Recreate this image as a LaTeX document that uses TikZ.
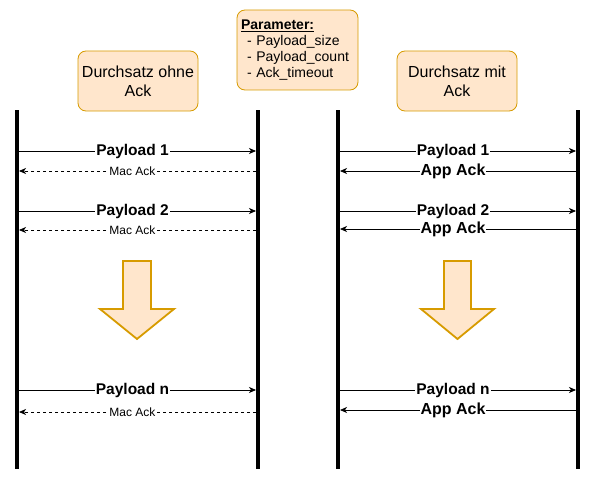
\documentclass[tikz,border=0pt]{standalone}
\usepackage{fontspec}
\setmainfont{Liberation Sans}
\usetikzlibrary{arrows.meta}
\definecolor{boxfill}{HTML}{FFE6CC}
\definecolor{boxdraw}{HTML}{D79B00}
\begin{document}
\begin{tikzpicture}[x=1pt,y=-1pt,
    msg/.style={-{Stealth[length=7pt,width=6pt,inset=2pt]},line width=0.8pt},
    macack/.style={msg,dash pattern=on 3pt off 3pt},
    lbl/.style={fill=white,inner sep=1pt,xshift=-5pt,font=\bfseries\fontsize{15.5}{18}\selectfont},
    maclbl/.style={fill=white,inner sep=1pt,xshift=-5pt,font=\fontsize{12}{14}\selectfont},
    applbl/.style={fill=white,inner sep=1pt,xshift=-5pt,font=\bfseries\fontsize{16}{19}\selectfont},
    lifeline/.style={line width=3.8pt},
    bigarrow/.style={fill=boxfill,draw=boxdraw,line width=1.8pt,line join=miter}]
            \useasboundingbox (0,0) rectangle (596,484);
            \begin{scope}[every node/.style={rectangle,rounded corners=8pt,fill=boxfill,draw=boxdraw,line width=0.8pt}]
                \node[minimum width=120pt,minimum height=60pt,align=center,font=\fontsize{16}{19}\selectfont] (ohne) at (138,81) {Durchsatz ohne\\Ack};
                \node[minimum width=120pt,minimum height=60pt,align=center,font=\fontsize{16}{19}\selectfont] (mit) at (457,81) {Durchsatz mit\\Ack};
                \node[minimum width=121pt,minimum height=80pt,text width=113pt,inner xsep=4pt,align=left,font=\fontsize{14}{16}\selectfont] (param) at (297.5,50) {\textbf{\underline{Parameter:}}\\\hspace*{6pt}- Payload\_size\\\hspace*{6pt}- Payload\_count\\\hspace*{6pt}- Ack\_timeout};
            \end{scope}
            % lifelines
            \coordinate (s1top) at (17,110);
            \coordinate (s1bot) at (17,469);
            \coordinate (e1top) at (258,110);
            \coordinate (e1bot) at (258,469);
            \coordinate (s2top) at (338,110);
            \coordinate (s2bot) at (338,469);
            \coordinate (e2top) at (578,110);
            \coordinate (e2bot) at (578,469);
            \draw[lifeline] (s1top) -- (s1bot);
            \draw[lifeline] (e1top) -- (e1bot);
            \draw[lifeline] (s2top) -- (s2bot);
            \draw[lifeline] (e2top) -- (e2bot);
            % ohne Ack
            \coordinate (p1l) at (19,151);
            \coordinate (p1r) at (256,151);
            \coordinate (m1l) at (19,171);
            \coordinate (m1r) at (256,171);
            \coordinate (p2l) at (19,211);
            \coordinate (p2r) at (256,211);
            \coordinate (m2l) at (19,230);
            \coordinate (m2r) at (256,230);
            \coordinate (pnl) at (19,390);
            \coordinate (pnr) at (256,390);
            \coordinate (mnl) at (19,412);
            \coordinate (mnr) at (256,412);
            \draw (p1l) edge [msg] node[lbl]{Payload 1} (p1r);
            \draw (m1r) edge [macack] node[maclbl]{Mac Ack} (m1l);
            \draw (p2l) edge [msg] node[lbl]{Payload 2} (p2r);
            \draw (m2r) edge [macack] node[maclbl]{Mac Ack} (m2l);
            \draw (pnl) edge [msg] node[lbl]{Payload n} (pnr);
            \draw (mnr) edge [macack] node[maclbl]{Mac Ack} (mnl);
            % mit Ack
            \coordinate (q1l) at (340,151);
            \coordinate (q1r) at (576,151);
            \coordinate (a1l) at (340,171);
            \coordinate (a1r) at (576,171);
            \coordinate (q2l) at (340,211);
            \coordinate (q2r) at (576,211);
            \coordinate (a2l) at (340,229);
            \coordinate (a2r) at (576,229);
            \coordinate (qnl) at (340,390);
            \coordinate (qnr) at (576,390);
            \coordinate (anl) at (340,410);
            \coordinate (anr) at (576,410);
            \draw (q1l) edge [msg] node[lbl]{Payload 1} (q1r);
            \draw (a1r) edge [msg] node[applbl]{App Ack} (a1l);
            \draw (q2l) edge [msg] node[lbl]{Payload 2} (q2r);
            \draw (a2r) edge [msg] node[applbl]{App Ack} (a2l);
            \draw (qnl) edge [msg] node[lbl]{Payload n} (qnr);
            \draw (anr) edge [msg] node[applbl]{App Ack} (anl);
            % big arrows
            \draw[bigarrow] (123,261) -- (151,261) -- (151,309) -- (174,309) -- (137,339) -- (100,309) -- (123,309) -- cycle;
            \draw[bigarrow] (444,261) -- (471,261) -- (471,309) -- (494,309) -- (457.5,339) -- (421,309) -- (444,309) -- cycle;
        \end{tikzpicture}
\end{document}
